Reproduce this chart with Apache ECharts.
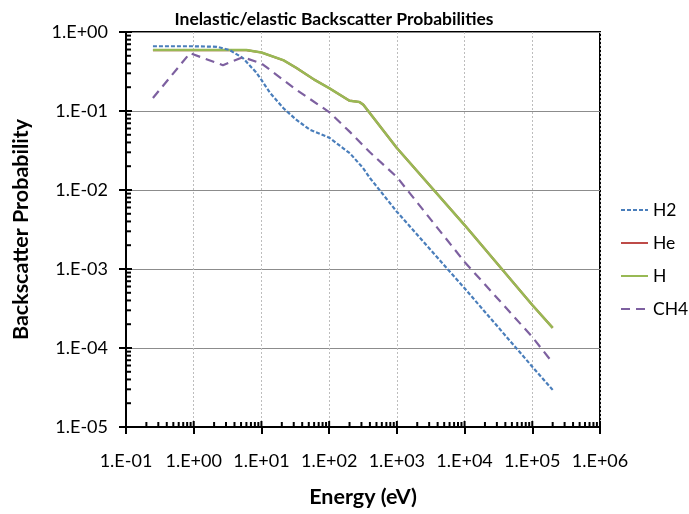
<!DOCTYPE html>
<html>
<head>
<meta charset="utf-8">
<script src="https://cdn.jsdelivr.net/npm/echarts@6/dist/echarts.min.js"></script>
<style>
  html, body { margin: 0; padding: 0; background: #fff; }
  #chart { width: 689px; height: 514px; }
</style>
</head>
<body>
<div id="chart"></div>
<script>
// Energy (eV) / backscatter probability pairs for each target gas
const h2Data = [
  [0.25, 0.66], [1, 0.66], [2.2, 0.65], [3.4, 0.59], [5.3, 0.47], [8.3, 0.31],
  [10, 0.247], [13.4, 0.17], [21, 0.109], [33, 0.077], [52, 0.058], [100, 0.046],
  [160, 0.034], [204, 0.029], [316, 0.019], [400, 0.0142], [1000, 0.0053],
  [10000, 0.00057], [100000, 0.000058], [200000, 0.0000295]
];
const heData = [
  [0.25, 0.59], [1, 0.59], [6, 0.59], [10, 0.55], [21, 0.44], [33, 0.35],
  [60, 0.25], [100, 0.195], [200, 0.135], [280, 0.13], [320, 0.12], [1000, 0.034],
  [10000, 0.0036], [100000, 0.00035], [200000, 0.00018]
];
const hData = [
  [0.25, 0.59], [1, 0.59], [6, 0.59], [10, 0.55], [21, 0.44], [33, 0.35],
  [60, 0.25], [100, 0.195], [200, 0.135], [280, 0.13], [320, 0.12], [1000, 0.034],
  [10000, 0.0036], [100000, 0.00035], [200000, 0.00018]
];
const ch4Data = [
  [0.25, 0.146], [0.88, 0.54], [2.7, 0.38], [5.3, 0.48], [10, 0.40], [33, 0.185],
  [100, 0.097], [204, 0.054], [400, 0.030], [1000, 0.0146], [10000, 0.00123],
  [100000, 0.000138], [200000, 0.000065]
];
const seriesNames = ['H2', 'He', 'H', 'CH4'];

const xMin = 0.1, xMax = 1e6;
const yMin = 1e-5, yMax = 1;

// Inner tick marks for the log axes: decades (longer) and 2..9 multiples (shorter)
function innerTicks(lo, hi) {
  const out = [];
  for (let d = lo; d <= hi * 1.0001; d *= 10) {
    out.push([+d.toPrecision(3), 1]);
    if (d >= hi * 0.9999) break;
    for (let m = 2; m <= 9; m++) out.push([+(m * d).toPrecision(3), 0]);
  }
  return out;
}
const xTicksInner = innerTicks(xMin, xMax).map(t => [t[0], yMin, t[1]]);
const yTicksInner = innerTicks(yMin, yMax).map(t => [xMin, t[0], t[1]]);

function sciLabel(v) {
  const e = Math.round(Math.log10(v));
  const s = e < 0 ? '-' : '+';
  const a = Math.abs(e);
  return '1.E' + s + (a < 10 ? '0' : '') + a;
}

const font = 'Lato, "Liberation Sans", sans-serif';

const chart = echarts.init(document.getElementById('chart'), null, { renderer: 'canvas' });
chart.setOption({
  animation: false,
  backgroundColor: '#fff',
  textStyle: { fontFamily: font },
  title: {
    text: 'Inelastic/elastic Backscatter Probabilities',
    left: 329, top: 5, textAlign: 'center',
    textStyle: { fontSize: 17.5, fontWeight: 'bold', color: '#000', fontFamily: font }
  },
  grid: {
    left: 126, right: 89, top: 32, bottom: 87,
    show: true, borderColor: '#000', borderWidth: 2, backgroundColor: 'transparent'
  },
  legend: {
    data: seriesNames,
    orient: 'vertical',
    left: 620, top: 201, padding: 0,
    itemWidth: 27, itemHeight: 18, itemGap: 15,
    itemStyle: { opacity: 0 },
    textStyle: { fontSize: 17.5, color: '#000', fontFamily: font }
  },
  xAxis: {
    type: 'log', logBase: 10, min: xMin, max: xMax, splitNumber: 7,
    name: 'Energy (eV)', nameLocation: 'middle', nameGap: 59,
    nameTextStyle: { fontSize: 21.5, fontWeight: 'bold', color: '#000', fontFamily: font },
    axisLine: { lineStyle: { color: '#000', width: 2 } },
    axisTick: { show: true, inside: false, length: 7, lineStyle: { color: '#000', width: 2 } },
    axisLabel: { margin: 25, fontSize: 18, color: '#000', formatter: sciLabel },
    splitLine: { show: true, lineStyle: { color: '#bdbdbd', width: 1, type: [2, 2] } },
    minorTick: { show: false }
  },
  yAxis: {
    type: 'log', logBase: 10, min: yMin, max: yMax, splitNumber: 5,
    name: 'Backscatter Probability', nameLocation: 'middle', nameGap: 94,
    nameTextStyle: { fontSize: 21.5, fontWeight: 'bold', color: '#000', fontFamily: font },
    axisLine: { lineStyle: { color: '#000', width: 2 } },
    axisTick: { show: true, inside: false, length: 7, lineStyle: { color: '#000', width: 2 } },
    axisLabel: { margin: 18, fontSize: 18, color: '#000', formatter: sciLabel },
    splitLine: { show: true, lineStyle: { color: '#8c8c8c', width: 1 } }
  },
  series: [
    {
      name: 'xInnerTicks', type: 'custom', silent: true, clip: false, z: 5,
      data: xTicksInner,
      renderItem: function (params, api) {
        const p = api.coord([api.value(0), api.value(1)]);
        const len = api.value(2) ? 6 : 5;
        return { type: 'line', shape: { x1: p[0], y1: p[1], x2: p[0], y2: p[1] - len },
                 style: { stroke: '#000', lineWidth: 2 } };
      }
    },
    {
      name: 'yInnerTicks', type: 'custom', silent: true, clip: false, z: 5,
      data: yTicksInner,
      renderItem: function (params, api) {
        const p = api.coord([api.value(0), api.value(1)]);
        const len = api.value(2) ? 6 : 5;
        return { type: 'line', shape: { x1: p[0], y1: p[1], x2: p[0] + len, y2: p[1] },
                 style: { stroke: '#000', lineWidth: 2 } };
      }
    },
    {
      name: 'H2', type: 'line', data: h2Data, symbol: 'none', z: 4,
      itemStyle: { color: '#4a7ebb' },
      lineStyle: { color: '#4a7ebb', width: 2.2, type: [4, 2] }
    },
    {
      name: 'He', type: 'line', data: heData, symbol: 'none', z: 2,
      itemStyle: { color: '#be4b48' },
      lineStyle: { color: '#be4b48', width: 2.2 }
    },
    {
      name: 'H', type: 'line', data: hData, symbol: 'none', z: 3,
      itemStyle: { color: '#98b954' },
      lineStyle: { color: '#98b954', width: 2.5 }
    },
    {
      name: 'CH4', type: 'line', data: ch4Data, symbol: 'none', z: 4,
      itemStyle: { color: '#7d60a0' },
      lineStyle: { color: '#7d60a0', width: 2.2, type: [9, 6] }
    }
  ]
});
</script>
</body>
</html>
